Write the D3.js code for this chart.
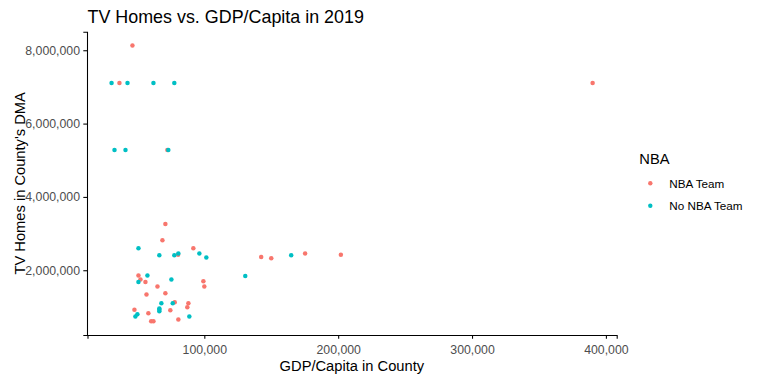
<!DOCTYPE html>
<html>
<head>
<meta charset="utf-8">
<script src="https://cdn.jsdelivr.net/npm/d3@7"></script>
<style>
  body { margin: 0; background: #fff; }
  svg { display: block; font-family: "Liberation Sans", Arial, sans-serif; }
</style>
</head>
<body>
<svg id="chart" width="762" height="380"></svg>
<script>
// ---- data (GDP per capita in county, TV homes in county's DMA) ----
const nbaGdp = [46300, 36600, 390100, 72400, 70900, 68700, 91800, 80400, 50800, 52300,
  56000, 99300, 100000, 65000, 70900, 56800, 77900, 88100, 87300, 47800,
  58200, 74600, 80600, 60300, 62000, 142500, 150000, 175300, 202000];
const nbaTv = [8130000, 7110000, 7110000, 5280000, 3260000, 2820000, 2600000, 2420000, 1860000, 1750000,
  1680000, 1700000, 1560000, 1560000, 1370000, 1340000, 1130000, 1100000, 990000, 920000,
  830000, 910000, 660000, 610000, 610000, 2360000, 2330000, 2460000, 2420000];
const noNbaGdp = [30700, 42600, 62000, 77600, 32900, 41100, 73100, 50800, 66400, 77600,
  80600, 96300, 101500, 57500, 50800, 75400, 67900, 76400, 66400, 66400,
  66400, 50000, 48500, 88800, 164900, 130600];
const noNbaTv = [7110000, 7110000, 7110000, 7110000, 5280000, 5280000, 5280000, 2600000, 2410000, 2410000,
  2460000, 2460000, 2350000, 1860000, 1680000, 1750000, 1100000, 1100000, 960000, 920000,
  880000, 800000, 740000, 740000, 2410000, 1840000];
const groups = ["NBA Team", "No NBA Team"];
const groupColors = ["#F8766D", "#00BFC4"];
const xTicks = [100000, 200000, 300000, 400000];
const yTicks = [2000000, 4000000, 6000000, 8000000];
const titleText = "TV Homes vs. GDP/Capita in 2019";
const xTitle = "GDP/Capita in County";
const yTitle = "TV Homes in County's DMA";
const legendTitle = "NBA";

// ---- build points ----
const points = [];
nbaGdp.forEach((g, i) => points.push({ x: g, y: nbaTv[i], grp: groups[0] }));
noNbaGdp.forEach((g, i) => points.push({ x: g, y: noNbaTv[i], grp: groups[1] }));

const svg = d3.select("#chart");
const panel = { left: 87, right: 616.7, top: 31.7, bottom: 335 };

function padded(ext) {
  const r = ext[1] - ext[0];
  return [ext[0] - 0.05 * r, ext[1] + 0.05 * r];
}
const x = d3.scaleLinear().domain(padded(d3.extent(points, d => d.x))).range([panel.left + 0.5, panel.right]);
const y = d3.scaleLinear().domain(padded(d3.extent(points, d => d.y))).range([panel.bottom, panel.top]);
const color = d3.scaleOrdinal().domain(groups).range(groupColors);
const fmt = d3.format(",");

// title
svg.append("text").attr("x", 87.5).attr("y", 22.7)
  .attr("font-size", 17.9).attr("fill", "#000").text(titleText);

// points
svg.append("g").selectAll("circle").data(points).join("circle")
  .attr("cx", d => x(d.x)).attr("cy", d => y(d.y)).attr("r", 2.25)
  .attr("fill", d => color(d.grp));

// x axis
const gx = svg.append("g").attr("transform", `translate(0,${panel.bottom})`)
  .call(d3.axisBottom(x).tickValues(xTicks).tickFormat(fmt).tickSizeOuter(0).tickSize(3.7).tickPadding(6.5));
gx.select(".domain").attr("stroke", "#000").attr("stroke-width", 1.07);
gx.selectAll(".tick line").attr("stroke", "#000").attr("stroke-width", 1.07);
gx.selectAll(".tick text").attr("font-size", 12.3).attr("fill", "#4D4D4D")
  .attr("font-family", "Liberation Sans, Arial, sans-serif");

// y axis
const gy = svg.append("g").attr("transform", `translate(${panel.left},0)`)
  .call(d3.axisLeft(y).tickValues(yTicks).tickFormat(fmt).tickSizeOuter(0).tickSize(3.7).tickPadding(3.3));
gy.select(".domain").attr("stroke", "#000").attr("stroke-width", 1.07);
gy.selectAll(".tick line").attr("stroke", "#000").attr("stroke-width", 1.07);
gy.selectAll(".tick text").attr("font-size", 12.3).attr("fill", "#4D4D4D")
  .attr("font-family", "Liberation Sans, Arial, sans-serif");

// axis titles
svg.append("text").attr("x", (panel.left + panel.right) / 2).attr("y", 370.5)
  .attr("text-anchor", "middle").attr("font-size", 14.7).attr("fill", "#000").text(xTitle);
svg.append("text")
  .attr("transform", `translate(24.5,${(panel.top + panel.bottom) / 2}) rotate(-90)`)
  .attr("text-anchor", "middle").attr("font-size", 14.7).attr("fill", "#000").text(yTitle);

// legend
const lg = svg.append("g");
lg.append("text").attr("x", 639.3).attr("y", 164).attr("font-size", 14.7).attr("fill", "#000").text(legendTitle);
groups.forEach((g, i) => {
  const cy = 183.3 + i * 22.4;
  lg.append("circle").attr("cx", 650.3).attr("cy", cy).attr("r", 2.2).attr("fill", color(g));
  lg.append("text").attr("x", 669.3).attr("y", cy + 4.3).attr("font-size", 11.7).attr("fill", "#000").text(g);
});
</script>
</body>
</html>
